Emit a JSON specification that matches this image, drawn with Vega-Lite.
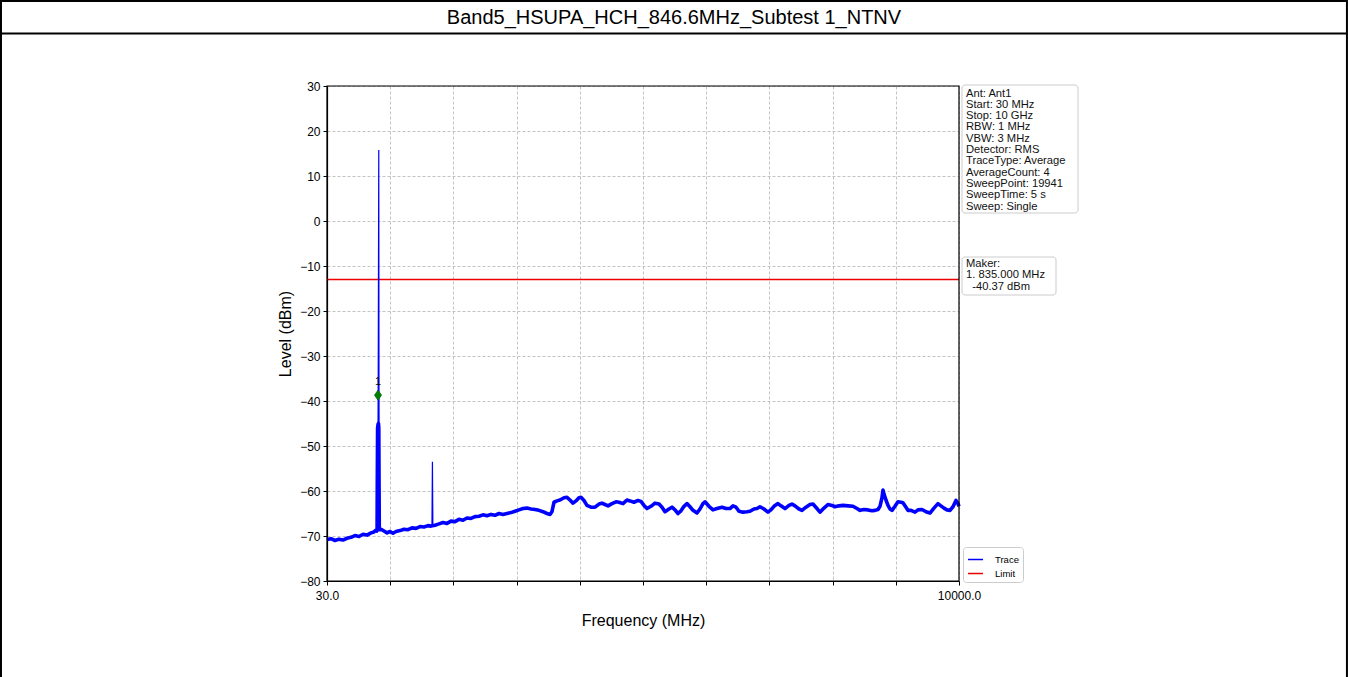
{
  "$schema": "https://vega.github.io/schema/vega-lite/v6.json",
  "width": 632,
  "height": 495,
  "autosize": {"type": "none"},
  "padding": {"left": 327, "top": 86, "right": 389, "bottom": 96},
  "background": "white",
  "config": {
    "view": {"stroke": null},
    "font": "Liberation Sans"
  },
  "data": {"values": [{}]},
  "datasets": {
    "trace": [
      {"f":30,"l":-70.8},{"f":93,"l":-70.6},{"f":156,"l":-71.0},{"f":219,"l":-70.7},{"f":282,"l":-70.9},{"f":345,"l":-70.5},{"f":408,"l":-70.3},{"f":472,"l":-69.9},{"f":535,"l":-70.1},{"f":598,"l":-69.6},{"f":661,"l":-69.8},{"f":724,"l":-69.3},{"f":771,"l":-69.1},{"f":803,"l":-68.7},{"f":815,"l":-68.9},{"f":820,"l":-68.4},{"f":824,"l":-56},{"f":828,"l":-46},{"f":835,"l":-45.2},{"f":842,"l":-45},{"f":847,"l":-46},{"f":851,"l":-58},{"f":855,"l":-68},{"f":862,"l":-68.6},{"f":882,"l":-68.5},{"f":929,"l":-68.9},{"f":977,"l":-69.3},{"f":1024,"l":-69.0},{"f":1071,"l":-69.4},{"f":1119,"l":-69.0},{"f":1182,"l":-68.8},{"f":1245,"l":-68.5},{"f":1308,"l":-68.6},{"f":1371,"l":-68.2},{"f":1434,"l":-68.3},{"f":1497,"l":-67.9},{"f":1560,"l":-68.0},{"f":1623,"l":-67.7},{"f":1670,"l":-67.8},{"f":1734,"l":-67.6},{"f":1797,"l":-67.3},{"f":1860,"l":-67.0},{"f":1923,"l":-67.2},{"f":1986,"l":-66.7},{"f":2049,"l":-66.8},{"f":2112,"l":-66.3},{"f":2175,"l":-66.5},{"f":2238,"l":-66.0},{"f":2301,"l":-66.1},{"f":2365,"l":-65.7},{"f":2428,"l":-65.6},{"f":2491,"l":-65.3},{"f":2554,"l":-65.5},{"f":2617,"l":-65.2},{"f":2680,"l":-65.4},{"f":2743,"l":-65.0},{"f":2806,"l":-65.2},{"f":2869,"l":-65.0},{"f":2933,"l":-64.8},{"f":2996,"l":-64.5},{"f":3059,"l":-64.2},{"f":3122,"l":-63.9},{"f":3185,"l":-63.8},{"f":3248,"l":-64.0},{"f":3311,"l":-64.1},{"f":3374,"l":-64.3},{"f":3437,"l":-64.6},{"f":3500,"l":-65.0},{"f":3548,"l":-65.2},{"f":3579,"l":-64.6},{"f":3611,"l":-62.5},{"f":3658,"l":-62.2},{"f":3705,"l":-62.0},{"f":3769,"l":-61.5},{"f":3816,"l":-61.4},{"f":3863,"l":-62.0},{"f":3911,"l":-62.7},{"f":3958,"l":-62.2},{"f":4005,"l":-61.5},{"f":4037,"l":-61.4},{"f":4084,"l":-62.1},{"f":4131,"l":-63.2},{"f":4194,"l":-63.6},{"f":4258,"l":-63.6},{"f":4321,"l":-62.9},{"f":4368,"l":-62.7},{"f":4415,"l":-63.0},{"f":4463,"l":-63.3},{"f":4526,"l":-62.8},{"f":4589,"l":-62.4},{"f":4636,"l":-62.5},{"f":4699,"l":-62.8},{"f":4762,"l":-62.0},{"f":4810,"l":-62.2},{"f":4873,"l":-62.5},{"f":4936,"l":-62.1},{"f":4983,"l":-62.3},{"f":5031,"l":-63.2},{"f":5078,"l":-63.9},{"f":5141,"l":-63.4},{"f":5204,"l":-62.7},{"f":5268,"l":-62.9},{"f":5315,"l":-63.6},{"f":5362,"l":-64.6},{"f":5425,"l":-64.0},{"f":5472,"l":-63.6},{"f":5520,"l":-64.2},{"f":5567,"l":-65.0},{"f":5614,"l":-64.4},{"f":5662,"l":-63.4},{"f":5709,"l":-62.8},{"f":5756,"l":-63.5},{"f":5804,"l":-64.3},{"f":5867,"l":-64.9},{"f":5914,"l":-64.0},{"f":5961,"l":-62.8},{"f":5993,"l":-62.4},{"f":6056,"l":-63.4},{"f":6119,"l":-64.2},{"f":6182,"l":-63.9},{"f":6261,"l":-63.6},{"f":6324,"l":-63.9},{"f":6387,"l":-63.9},{"f":6435,"l":-63.3},{"f":6482,"l":-63.6},{"f":6529,"l":-64.5},{"f":6592,"l":-64.7},{"f":6655,"l":-64.6},{"f":6703,"l":-64.5},{"f":6766,"l":-64.0},{"f":6813,"l":-63.9},{"f":6860,"l":-63.5},{"f":6923,"l":-64.0},{"f":6986,"l":-64.7},{"f":7033,"l":-64.2},{"f":7081,"l":-63.4},{"f":7144,"l":-62.8},{"f":7192,"l":-63.3},{"f":7255,"l":-63.9},{"f":7318,"l":-63.2},{"f":7365,"l":-62.9},{"f":7412,"l":-63.3},{"f":7476,"l":-64.0},{"f":7523,"l":-64.3},{"f":7586,"l":-63.6},{"f":7649,"l":-63.0},{"f":7696,"l":-62.9},{"f":7760,"l":-63.9},{"f":7807,"l":-64.7},{"f":7870,"l":-63.8},{"f":7933,"l":-63.0},{"f":7996,"l":-63.2},{"f":8043,"l":-63.5},{"f":8107,"l":-63.3},{"f":8170,"l":-63.2},{"f":8249,"l":-63.3},{"f":8328,"l":-63.4},{"f":8391,"l":-63.9},{"f":8438,"l":-64.3},{"f":8501,"l":-64.1},{"f":8564,"l":-64.2},{"f":8627,"l":-64.4},{"f":8675,"l":-64.3},{"f":8722,"l":-64.1},{"f":8754,"l":-63.4},{"f":8785,"l":-61.5},{"f":8801,"l":-59.8},{"f":8817,"l":-60.7},{"f":8848,"l":-62.0},{"f":8880,"l":-63.2},{"f":8911,"l":-64.0},{"f":8943,"l":-64.3},{"f":8990,"l":-63.4},{"f":9037,"l":-62.4},{"f":9085,"l":-62.5},{"f":9116,"l":-62.6},{"f":9164,"l":-63.6},{"f":9195,"l":-64.3},{"f":9243,"l":-64.3},{"f":9306,"l":-64.7},{"f":9353,"l":-64.2},{"f":9416,"l":-64.1},{"f":9479,"l":-64.6},{"f":9542,"l":-64.9},{"f":9605,"l":-63.8},{"f":9668,"l":-62.8},{"f":9715,"l":-63.3},{"f":9763,"l":-63.8},{"f":9810,"l":-64.2},{"f":9858,"l":-64.3},{"f":9905,"l":-63.5},{"f":9952,"l":-62.1},{"f":9984,"l":-62.8},{"f":10000,"l":-63.4}
    ],
    "spikes": [
      {"id":"carrier","f":835,"l":-45.2},{"id":"carrier","f":838,"l":-36},{"id":"carrier","f":846.6,"l":15.8},{"id":"carrier","f":850,"l":-38},{"id":"carrier","f":852,"l":-46},
      {"id":"h2","f":1686,"l":-67.6},{"id":"h2","f":1693,"l":-53.5},{"id":"h2","f":1700,"l":-67.5}
    ],
    "limit": [{"f":30,"l":-13},{"f":10000,"l":-13}],
    "marker": [{"f":835,"l":-38.7,"t":"1"}],
    "info": [{"txt":"Ant: Ant1\nStart: 30 MHz\nStop: 10 GHz\nRBW: 1 MHz\nVBW: 3 MHz\nDetector: RMS\nTraceType: Average\nAverageCount: 4\nSweepPoint: 19941\nSweepTime: 5 s\nSweep: Single"}],
    "maker": [{"txt":"Maker:\n1. 835.000 MHz\n\u200b\u00a0\u00a0-40.37 dBm"}],
    "header": [{"txt":"Band5_HSUPA_HCH_846.6MHz_Subtest 1_NTNV"}]
  },
  "layer": [
    {
      "mark": {"type": "rect", "filled": false, "stroke": "black", "strokeWidth": 2, "clip": false},
      "encoding": {
        "x": {"datum": -5113, "type": "quantitative", "scale": {"domain": [30, 10000], "nice": false, "zero": false}},
        "x2": {"datum": 16120},
        "y": {"datum": 48.9, "type": "quantitative", "scale": {"domain": [-80, 30], "nice": false, "zero": false}},
        "y2": {"datum": -103}
      }
    },
    {
      "mark": {"type": "rule", "stroke": "black", "strokeWidth": 2, "clip": false},
      "encoding": {
        "x": {"datum": -5113, "type": "quantitative"},
        "x2": {"datum": 16120},
        "y": {"datum": 41.67, "type": "quantitative"}
      }
    },
    {
      "data": {"name": "header"},
      "mark": {"type": "text", "fontSize": 20, "font": "Liberation Sans", "color": "black", "align": "center", "baseline": "middle", "clip": false},
      "encoding": {
        "x": {"datum": 5504, "type": "quantitative"},
        "y": {"datum": 45.1, "type": "quantitative"},
        "text": {"field": "txt"}
      }
    },
    {
      "data": {"name": "trace"},
      "mark": {"type": "line", "strokeWidth": 3.6, "strokeJoin": "round"},
      "encoding": {
        "x": {
          "field": "f", "type": "quantitative",
          "axis": {
            "values": [30, 1027, 2024, 3021, 4018, 5015, 6012, 7009, 8006, 9003, 10000],
            "labelExpr": "datum.value == 30 ? '30.0' : (datum.value == 10000 ? '10000.0' : '')",
            "labelOverlap": false, "labelFlush": false,
            "title": "Frequency (MHz)",
            "titleFontSize": 16, "titleFontWeight": "normal", "titleColor": "black", "titleFont": "Liberation Sans",
            "titlePadding": 11,
            "labelFontSize": 12, "labelColor": "black", "labelFont": "Liberation Sans",
            "labelPadding": 5, "tickSize": 4, "tickColor": "black",
            "domainColor": "black", "domainWidth": 1.2,
            "grid": true, "gridDash": [3, 2], "gridColor": "#b4b4b4", "gridWidth": 0.8
          }
        },
        "y": {
          "field": "l", "type": "quantitative",
          "axis": {
            "values": [-80, -70, -60, -50, -40, -30, -20, -10, 0, 10, 20, 30],
            "title": "Level (dBm)",
            "titleFontSize": 16, "titleFontWeight": "normal", "titleColor": "black", "titleFont": "Liberation Sans",
            "titlePadding": 6,
            "labelFontSize": 12, "labelColor": "black", "labelFont": "Liberation Sans",
            "labelPadding": 3, "tickSize": 4, "tickColor": "black",
            "domainColor": "black", "domainWidth": 1.2,
            "grid": true, "gridDash": [3, 2], "gridColor": "#b4b4b4", "gridWidth": 0.8,
            "format": "d"
          }
        },
        "color": {
          "datum": "Trace", "type": "nominal",
          "scale": {"domain": ["Trace", "Limit"], "range": ["#0000ff", "#ee0000"]},
          "legend": {
            "orient": "none", "legendX": 636, "legendY": 461, "title": null,
            "fillColor": "white", "strokeColor": "#cccccc", "cornerRadius": 3, "padding": 4,
            "symbolType": "stroke", "symbolSize": 225, "symbolStrokeWidth": 1.5,
            "labelFontSize": 9.5, "labelFont": "Liberation Sans", "labelColor": "black",
            "rowPadding": 1, "labelOffset": 11
          }
        }
      }
    },
    {
      "data": {"name": "limit"},
      "mark": {"type": "line", "strokeWidth": 1.3, "stroke": "#ee0000", "color": "#ee0000"},
      "encoding": {
        "x": {"field": "f", "type": "quantitative"},
        "y": {"field": "l", "type": "quantitative"}
      }
    },
    {
      "data": {"name": "spikes"},
      "mark": {"type": "line", "strokeWidth": 1.2},
      "encoding": {
        "x": {"field": "f", "type": "quantitative"},
        "y": {"field": "l", "type": "quantitative"},
        "detail": {"field": "id"},
        "color": {"datum": "Trace", "type": "nominal"}
      }
    },
    {
      "mark": {"type": "rect", "filled": false, "stroke": "black", "strokeWidth": 1.2, "clip": false},
      "encoding": {
        "x": {"datum": 30, "type": "quantitative"},
        "x2": {"datum": 10000},
        "y": {"datum": -80, "type": "quantitative"},
        "y2": {"datum": 30}
      }
    },
    {
      "data": {"name": "marker"},
      "mark": {"type": "point", "shape": "M0,-1L0.7,0L0,1L-0.7,0Z", "size": 100, "filled": true, "fill": "#008000", "stroke": "#006400", "strokeWidth": 0.8, "opacity": 1},
      "encoding": {
        "x": {"field": "f", "type": "quantitative"},
        "y": {"field": "l", "type": "quantitative"}
      }
    },
    {
      "data": {"name": "marker"},
      "mark": {"type": "text", "fontSize": 11, "color": "black", "dy": -13, "baseline": "middle", "align": "center"},
      "encoding": {
        "x": {"field": "f", "type": "quantitative"},
        "y": {"field": "l", "type": "quantitative"},
        "text": {"field": "t"}
      }
    },
    {
      "mark": {"type": "rect", "fill": "white", "stroke": "#cccccc", "strokeWidth": 1, "cornerRadius": 3, "clip": false, "xOffset": 3, "x2Offset": 119, "yOffset": -1, "y2Offset": 127},
      "encoding": {
        "x": {"datum": 10000, "type": "quantitative"},
        "x2": {"datum": 10000},
        "y": {"datum": 30, "type": "quantitative"},
        "y2": {"datum": 30}
      }
    },
    {
      "data": {"name": "info"},
      "mark": {"type": "text", "lineBreak": "\n", "fontSize": 11.2, "lineHeight": 11.3, "font": "Liberation Sans", "color": "#111111", "align": "left", "baseline": "alphabetic", "dx": 7, "dy": 10.5, "clip": false},
      "encoding": {
        "x": {"datum": 10000, "type": "quantitative"},
        "y": {"datum": 30, "type": "quantitative"},
        "text": {"field": "txt"}
      }
    },
    {
      "mark": {"type": "rect", "fill": "white", "stroke": "#cccccc", "strokeWidth": 1, "cornerRadius": 3, "clip": false, "xOffset": 3, "x2Offset": 97, "yOffset": -9, "y2Offset": 29},
      "encoding": {
        "x": {"datum": 10000, "type": "quantitative"},
        "x2": {"datum": 10000},
        "y": {"datum": -10, "type": "quantitative"},
        "y2": {"datum": -10}
      }
    },
    {
      "data": {"name": "maker"},
      "mark": {"type": "text", "lineBreak": "\n", "fontSize": 11.2, "lineHeight": 11.3, "font": "Liberation Sans", "color": "#111111", "align": "left", "baseline": "alphabetic", "dx": 7, "dy": 1, "clip": false},
      "encoding": {
        "x": {"datum": 10000, "type": "quantitative"},
        "y": {"datum": -10, "type": "quantitative"},
        "text": {"field": "txt"}
      }
    }
  ]
}
